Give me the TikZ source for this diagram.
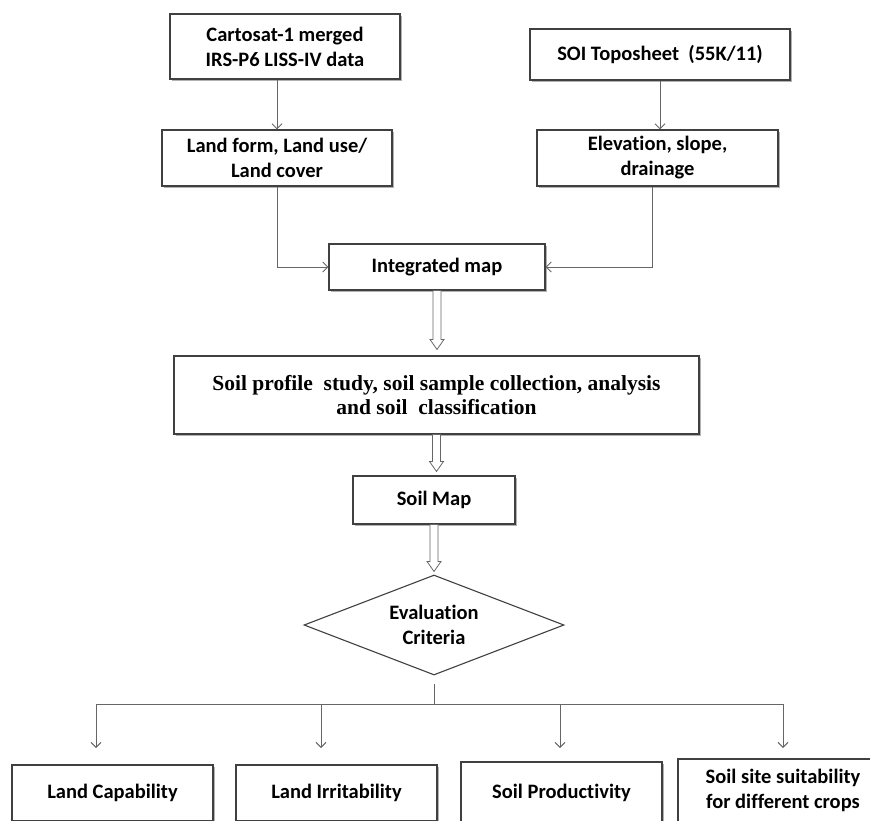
\documentclass[tikz,border=0pt]{standalone}
\usepackage{fontspec}
\setmainfont{Carlito}[Ligatures=NoCommon]
\newfontfamily\tnr{Liberation Serif}
\usetikzlibrary{arrows.meta,shapes.geometric,shadows,calc}
\begin{document}
\begin{tikzpicture}[x=1pt,y=-1pt,
  box/.style={draw=black!75, line width=1.1pt, fill=white, align=center, inner sep=0pt,
    font=\fontsize{20.5}{25}\selectfont\bfseries,
    drop shadow={shadow xshift=1.6pt, shadow yshift=-1.6pt, fill=black!30, opacity=1}},
  conn/.style={draw=black!60, line width=1pt},
  arr/.style={conn, -{Straight Barb[length=5pt,width=10pt]}},
  hollow/.style={draw=black!60, line width=0.8pt, fill=white, to path={
    let \p1=(\tikztostart), \p2=(\tikztotarget) in
    (\x1-4pt,\y1) -- (\x1+4pt,\y1) -- (\x1+4pt,\y2+10pt) -- (\x1+7pt,\y2+10pt)
    -- (\x1,\y2) -- (\x1-7pt,\y2+10pt) -- (\x1-4pt,\y2+10pt) -- cycle}}
]
\useasboundingbox (0,0) rectangle (870,820);
\clip (0,0) rectangle (870,820);

\node[box, minimum width=230, minimum height=65] (c1) at (285,46.5) {Cartosat-1 merged\\IRS-P6 LISS-IV data};
\node[box, minimum width=260, minimum height=51] (soi) at (660,54.5) {SOI Toposheet\ \ (55K/11)};
\node[box, minimum width=230, minimum height=56] (lf) at (277,158) {Land form, Land use/\\Land cover};
\node[box, minimum width=241, minimum height=56] (el) at (657.5,158) {Elevation, slope,\\drainage};
\node[box, minimum width=216, minimum height=46] (im) at (437,267) {Integrated map};
\node[box, minimum width=525, minimum height=78, font=\fontsize{21.5}{24}\selectfont\bfseries\tnr] (sp) at (436.5,395)
  {Soil profile\ \ study, soil sample collection, analysis\\and soil\ \ classification};
\node[box, minimum width=162, minimum height=48] (sm) at (434,500) {Soil Map};
\node[diamond, draw=black!75, line width=1.1pt, fill=white, minimum width=260, minimum height=100, aspect=2.6,
  inner sep=0pt, align=center, font=\fontsize{20.5}{25}\selectfont\bfseries] (ev) at (434,625) {Evaluation\\Criteria};

\node[box, minimum width=201, minimum height=56] (la) at (112.5,793) {Land Capability};
\node[box, minimum width=201, minimum height=56] (lb) at (336.5,793) {Land Irritability};
\node[box, minimum width=201, minimum height=62] (lc) at (561.5,793) {Soil Productivity};
\node[box, minimum width=210, minimum height=63] (ld) at (783,790.5) {Soil site suitability\\for different crops};

\draw[arr] (c1.south -| lf.north) -- (lf.north);
\draw[arr] (soi.south) -- (soi.south |- el.north);
\draw[arr] (lf.south) |- (im.west);
\draw[arr] ([xshift=-5.5pt]el.south) |- (im.east);

\draw[hollow] (im.south) to ([yshift=6pt]sp.north);
\draw[hollow] (sp.south) to ([yshift=4pt]sm.north);
\draw[hollow] (sm.south) to ([yshift=3pt]ev.north);

\coordinate (j) at (434,704);
\coordinate (b1) at (96,704);
\coordinate (b2) at (321,704);
\coordinate (b3) at (560,704);
\coordinate (b4) at (783,704);
\coordinate (t1) at (96,748);
\coordinate (t2) at (321,748);
\coordinate (t3) at (560,748);
\coordinate (t4) at (783,748);
\draw[conn] ([yshift=-8pt]ev.south) -- (j);
\draw[conn] (b1) -- (b4);
\draw[arr] (b1) -- (t1);
\draw[arr] (b2) -- (t2);
\draw[arr] (b3) -- (t3);
\draw[arr] (b4) -- (t4);
\end{tikzpicture}
\end{document}
